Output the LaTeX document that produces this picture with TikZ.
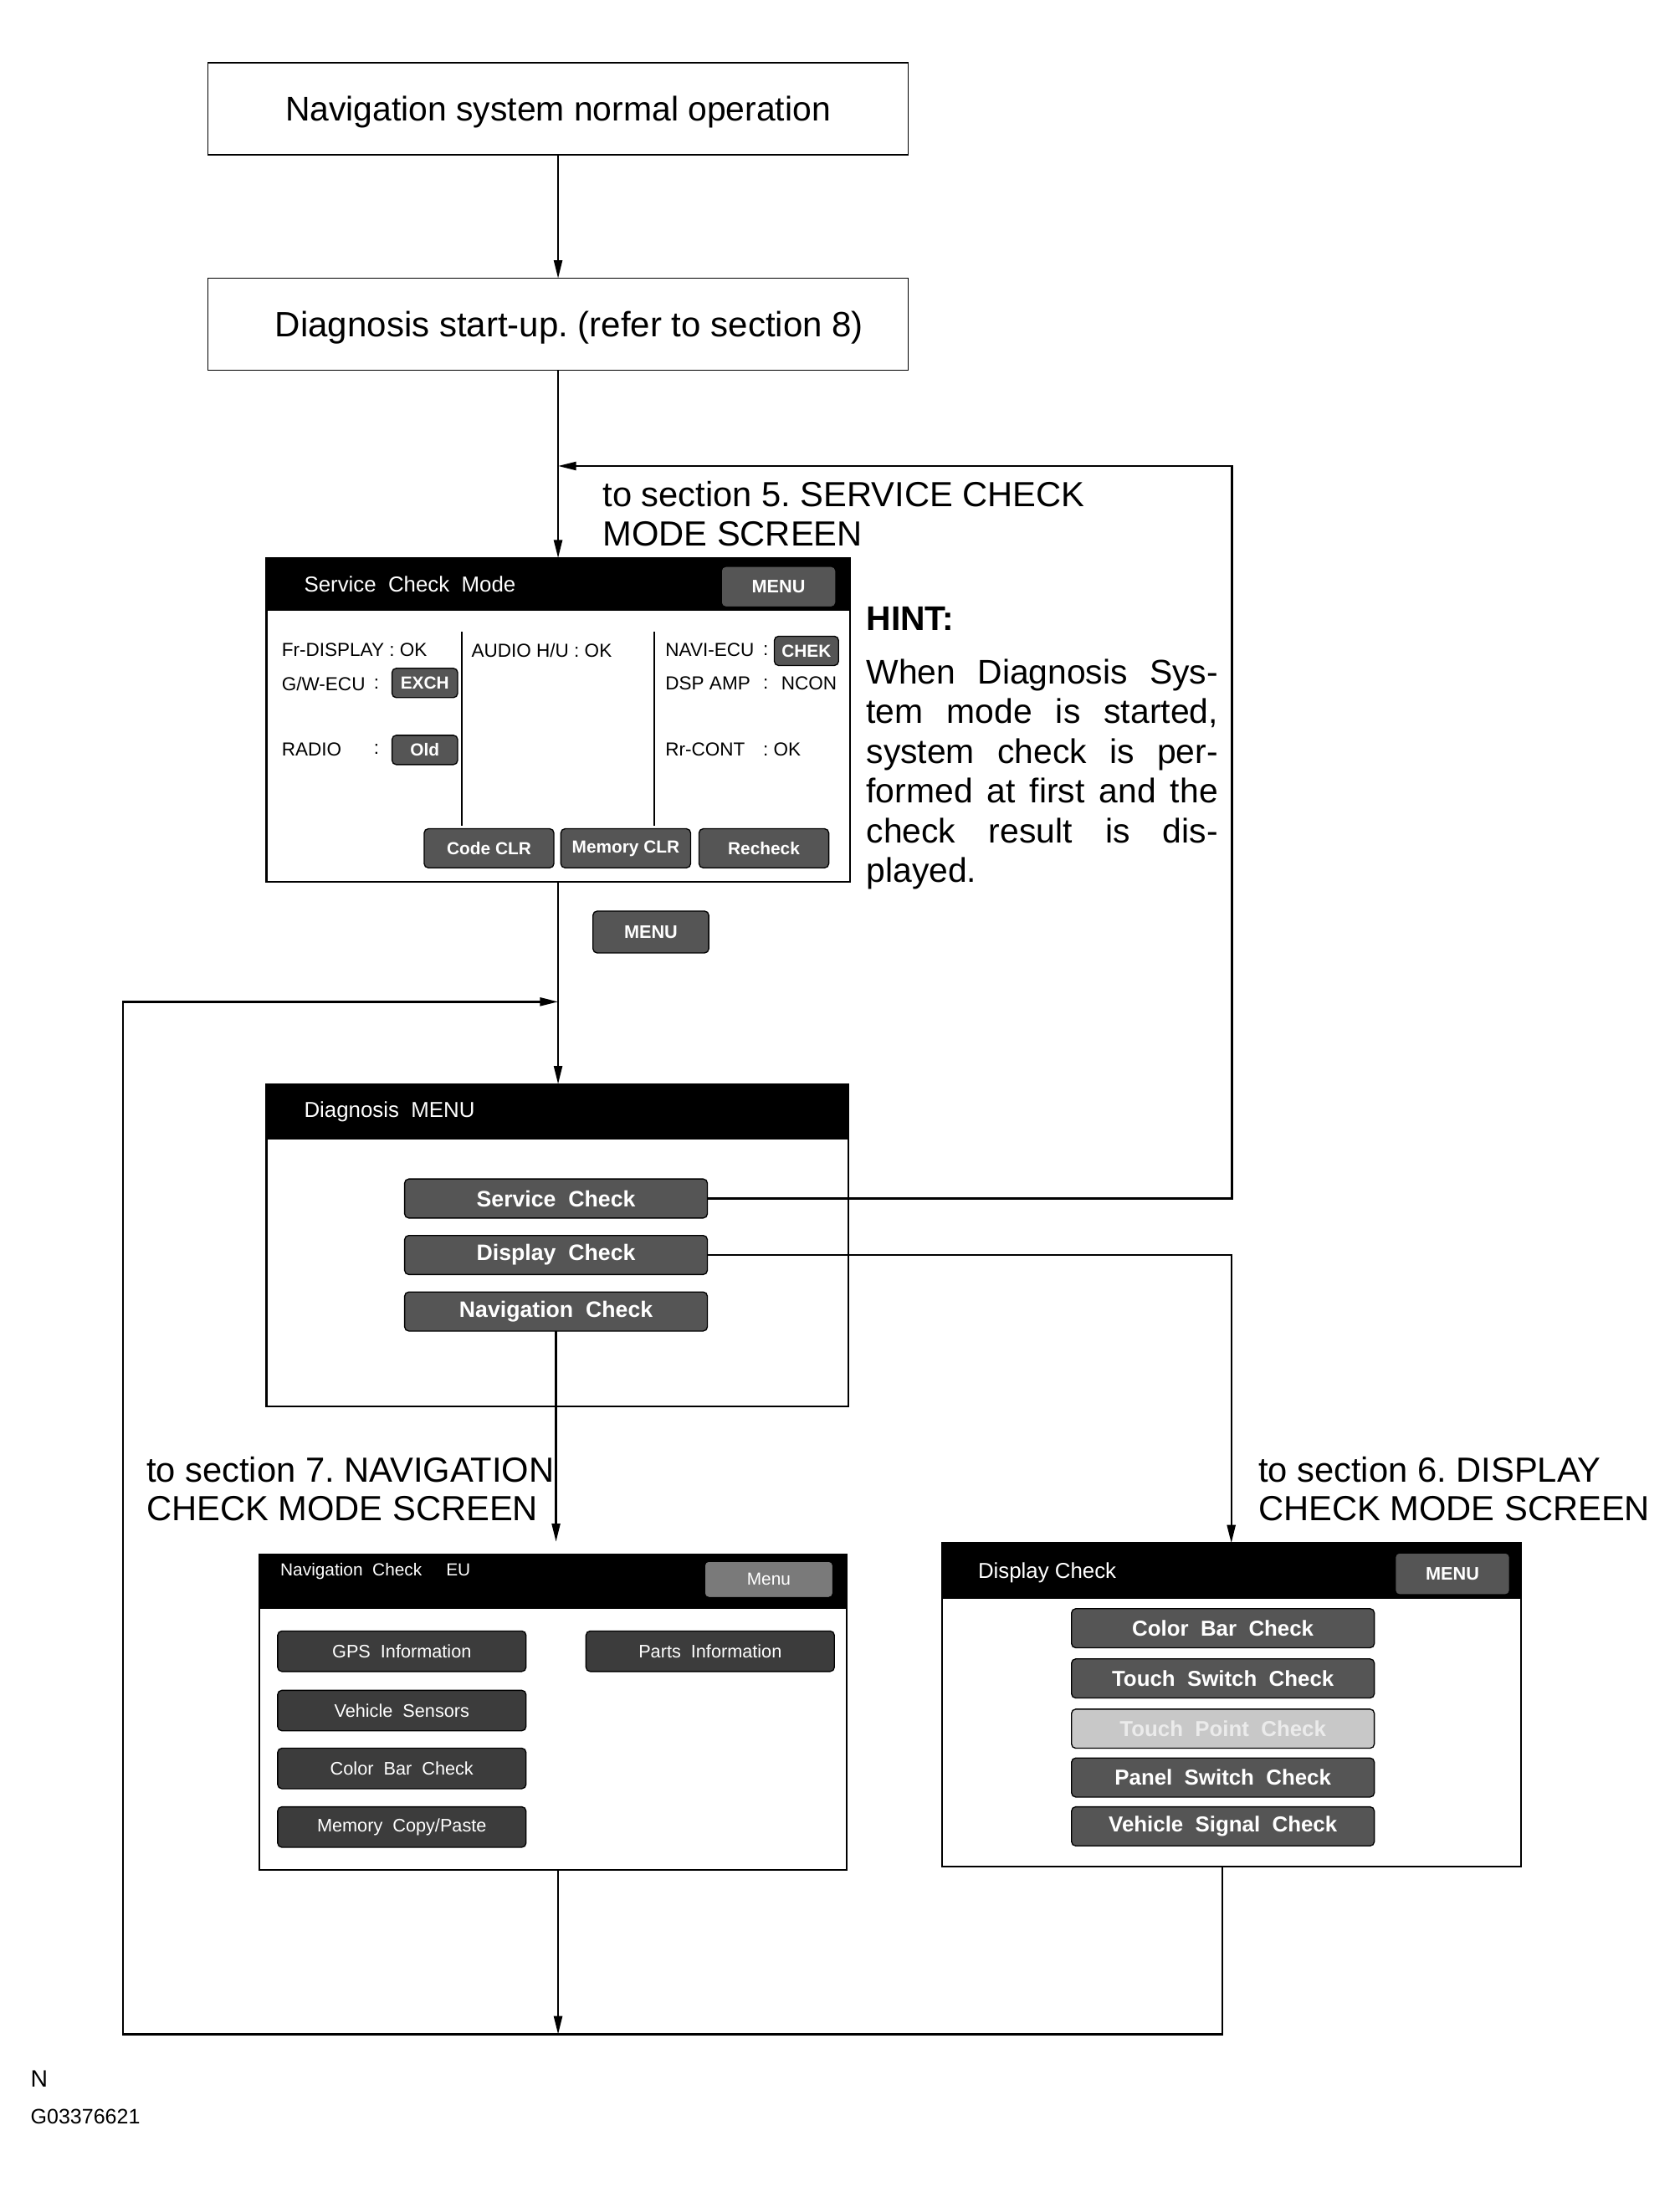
\documentclass[tikz,border=0pt]{standalone}
\usepackage{fontspec}
\setmainfont{Liberation Sans}
\usetikzlibrary{arrows.meta}
\definecolor{btngray}{HTML}{555555}
\definecolor{navgray}{HTML}{3C3C3C}
\definecolor{menugray}{HTML}{7A7A7A}
\definecolor{fadegray}{HTML}{C8C8C8}
\newcommand{\fsz}[2]{\fontsize{#1}{#2}\selectfont}
\frenchspacing
\begin{document}
\begin{tikzpicture}[x=1pt,y=-1pt,
  every node/.style={inner sep=0pt, outer sep=0pt},
  conn/.style={line width=1.4pt},
  arr/.style={conn, -{Triangle[length=13pt,width=6pt]}},
  flowbox/.style={draw, line width=0.8pt, minimum width=502pt, minimum height=66pt, text height=17.5pt, text depth=0pt, font=\fsz{24.5}{29}},
  screen/.style={draw, line width=1.3pt, anchor=north west},
  bar/.style={fill=black, anchor=north west},
  bartext/.style={text=white, anchor=west, font=\fsz{15.5}{18}},
  scrtext/.style={anchor=west, font=\fsz{13.5}{16}},
  lbl/.style={anchor=base west, font=\fsz{25}{28}},
  hint/.style={anchor=base west, font=\fsz{24.5}{28}},
  btnbase/.style={draw=black, line width=0.8pt, rounded corners=3pt, text=white},
  bigbtn/.style={btnbase, fill=btngray, minimum width=217pt, minimum height=28pt, font=\bfseries\fsz{15.5}{18}},
  smallbtn/.style={btnbase, fill=btngray, font=\bfseries\fsz{12.5}{14}},
  navbtn/.style={btnbase, fill=navgray, minimum width=178pt, minimum height=29pt, font=\fsz{13}{15}},
]
\fill[white] (0,0) rectangle (1204,1567.5);
\useasboundingbox (0,0) rectangle (1204,1567.5);

% flow boxes
\node[flowbox] (b1) at (400,78) {Navigation system normal operation};
\node[flowbox, font=\fsz{25.2}{29}] (b2) at (400,232.5) {\hspace*{16pt}Diagnosis start-up. (refer to section 8)};

% ---------------- Service Check Mode screen
\node[screen, minimum width=418pt, minimum height=232pt] (scm) at (191,400) {};
\node[bar, minimum width=418pt, minimum height=38pt] (scmbar) at (191,400) {};
\node[bartext] (scmt) at (218,419) {Service\ \ Check\ \ Mode};
\node[smallbtn, minimum width=82pt, minimum height=29pt, font=\bfseries\fsz{13}{15}] (scmmenu) at (558,420.5) {MENU};
\draw[line width=1pt] (331,453) -- (331,592);
\draw[line width=1pt] (469,453) -- (469,592);
\node[scrtext] (t1) at (202,466) {Fr-DISPLAY : OK};
\node[scrtext] (t2) at (202,490) {G/W-ECU};
\node[scrtext] (t2c) at (268,490) {:};
\node[smallbtn, minimum width=47pt, minimum height=21pt] (exch) at (304.5,489.5) {EXCH};
\node[scrtext] (t3) at (202,537) {RADIO};
\node[scrtext] (t3c) at (268,537) {:};
\node[smallbtn, minimum width=47pt, minimum height=21pt] (old) at (304.5,537.5) {Old};
\node[scrtext] (t4) at (338,466) {AUDIO H/U : OK};
\node[scrtext] (t5) at (477,466) {NAVI-ECU};
\node[scrtext] (t5c) at (547,466) {:};
\node[smallbtn, minimum width=46pt, minimum height=21pt] (chek) at (578,466.5) {CHEK};
\node[scrtext] (t6) at (477,490) {DSP AMP};
\node[scrtext] (t6c) at (547,490) {:};
\node[scrtext] (t6v) at (560,490) {NCON};
\node[scrtext] (t7) at (477,537) {Rr-CONT};
\node[scrtext] (t7c) at (547,537) {: OK};
\node[smallbtn, minimum width=93pt, minimum height=28pt] (codeclr) at (350.5,608) {Code CLR};
\node[smallbtn, minimum width=93pt, minimum height=28pt] (memclr) at (448.5,608) {Memory CLR};
\node[smallbtn, minimum width=93pt, minimum height=28pt] (rechk) at (547.5,608) {Recheck};

% HINT
\node[hint, font=\bfseries\fsz{24.5}{28}] (hintt) at (621,452) {HINT:};
\node[hint] (h1) at (621,490) {\makebox[252pt][s]{When Diagnosis Sys-}};
\node[hint] (h2) at (621,518.5) {\makebox[252pt][s]{tem mode is started,}};
\node[hint] (h3) at (621,547) {\makebox[252pt][s]{system check is per-}};
\node[hint] (h4) at (621,575.5) {\makebox[252pt][s]{formed at first and the}};
\node[hint] (h5) at (621,604) {\makebox[252pt][s]{check result is dis-}};
\node[hint] (h6) at (621,632.5) {played.};

% section 5 label
\node[lbl] (l5a) at (432,363) {to section 5. SERVICE CHECK};
\node[lbl] (l5b) at (432,391) {MODE SCREEN};

% MENU button between screens
\node[smallbtn, minimum width=83pt, minimum height=30pt, font=\bfseries\fsz{13}{15}] (menubtn) at (466.5,668) {MENU};

% ---------------- Diagnosis MENU screen
\node[screen, minimum width=417pt, minimum height=231pt] (dm) at (191,777) {};
\node[bar, minimum width=417pt, minimum height=40pt] (dmbar) at (191,777) {};
\node[bartext] (dmt) at (218,797) {Diagnosis\ \ MENU};
\node[bigbtn, font=\bfseries\fsz{16}{18}] (scbtn) at (398.5,859) {Service\ \ Check};
\node[bigbtn, font=\bfseries\fsz{16}{18}] (dcbtn) at (398.5,899.5) {Display\ \ Check};
\node[bigbtn, font=\bfseries\fsz{16}{18}] (ncbtn) at (398.5,940) {Navigation\ \ Check};

% section labels
\node[lbl] (l7a) at (105,1062) {to section 7. NAVIGATION};
\node[lbl] (l7b) at (105,1090) {CHECK MODE SCREEN};
\node[lbl] (l6a) at (902,1062) {to section 6. DISPLAY};
\node[lbl] (l6b) at (902,1090) {CHECK MODE SCREEN};

% ---------------- Navigation Check screen
\node[screen, minimum width=421pt, minimum height=226pt] (nc) at (186,1114) {};
\node[bar, minimum width=421pt, minimum height=39pt] (ncbar) at (186,1114) {};
\node[bartext, font=\fsz{12.5}{15}] (nct) at (201,1126) {Navigation\ \ Check\ \ \ \ \ EU};
\node[btnbase, fill=menugray, minimum width=92pt, minimum height=26pt, font=\fsz{12.5}{15}] (ncmenu) at (551,1132) {Menu};
\node[navbtn] (gps) at (288,1183.5) {GPS\ \ Information};
\node[navbtn] (vsen) at (288,1226) {Vehicle\ \ Sensors};
\node[navbtn] (cbar1) at (288,1267.5) {Color\ \ Bar\ \ Check};
\node[navbtn] (memcp) at (288,1309.5) {Memory\ \ Copy/Paste};
\node[navbtn] (parts) at (509,1183.5) {Parts\ \ Information};

% ---------------- Display Check screen
\node[screen, minimum width=415pt, minimum height=232pt] (dc) at (675,1106) {};
\node[bar, minimum width=415pt, minimum height=40pt] (dcbar) at (675,1106) {};
\node[bartext] (dct) at (701,1127) {Display Check};
\node[smallbtn, minimum width=82pt, minimum height=30pt, font=\bfseries\fsz{13}{15}] (dcmenu) at (1041,1128) {MENU};
\node[bigbtn] (cbar2) at (876.5,1167) {Color\ \ Bar\ \ Check};
\node[bigbtn] (tsw) at (876.5,1203) {Touch\ \ Switch\ \ Check};
\node[bigbtn, fill=fadegray, text=white!92!black] (tpt) at (876.5,1239) {Touch\ \ Point\ \ Check};
\node[bigbtn] (psw) at (876.5,1274) {Panel\ \ Switch\ \ Check};
\node[bigbtn] (vsig) at (876.5,1309) {Vehicle\ \ Signal\ \ Check};

% footer
\node[anchor=west, font=\fsz{17}{20}] (fn) at (22,1490) {N};
\node[anchor=west, font=\fsz{15}{18}] (fg) at (22,1517) {G03376621};

% ---------------- connectors
\coordinate (fbR) at (883,334);
\coordinate (fbL) at (400,334);
\coordinate (jn) at (400,718);
\coordinate (lt) at (88,718);
\coordinate (lb) at (88,1458);
\coordinate (rb) at (876,1458);
\coordinate (bot) at (400,1458);

\draw[arr] (b1) -- (b2);
\draw[arr] (b2) -- (scm);
\draw[arr] (scbtn.east) -| (fbR) -- (fbL);
\draw[arr] (scm.south) -- (scm.south |- dm.north);
\draw[arr] (dcbtn.east) -| (dc.north);
\draw[arr, shorten >=9pt] (ncbtn.south) -- (ncbtn.south |- nc.north);
\draw[arr] (jn |- nc.south) -- (bot);
\draw[arr] (rb |- dc.south) -- (rb) -- (lb) -- (lt) -- (jn);
\end{tikzpicture}
\end{document}
